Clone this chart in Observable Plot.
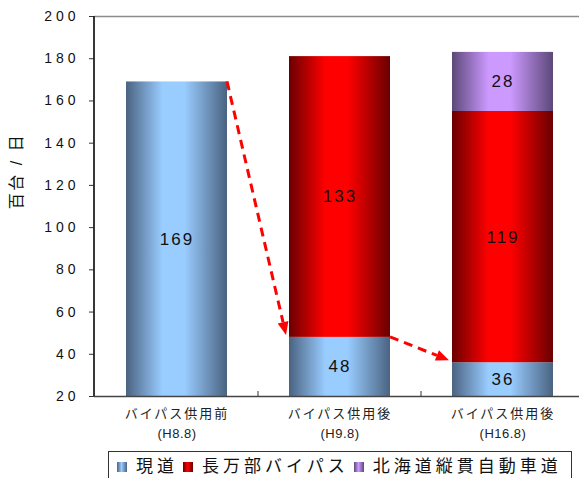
<!DOCTYPE html>
<html><head><meta charset="utf-8">
<script src="https://cdn.jsdelivr.net/npm/d3@7"></script>
<script src="https://cdn.jsdelivr.net/npm/@observablehq/plot@0.6"></script>
<style>
body{margin:0;background:#fff;font-family:"Liberation Sans","Noto Sans CJK JP",sans-serif;}
#wrap{position:relative;width:579px;height:478px;overflow:hidden;}
#legend{position:absolute;left:108px;top:451px;width:464px;height:40px;border:1px solid #333;box-sizing:border-box;
  display:flex;align-items:flex-start;padding-left:8px;font-size:17px;letter-spacing:4px;color:#111;line-height:30px;}
#legend .item{display:flex;align-items:center;margin-right:5px;}
#legend .sw{width:10px;height:10px;margin-right:9px;}
</style></head>
<body><div id="wrap"><div id="chart"></div><div id="legend"></div></div>
<script>
const categories = ["H8.8", "H9.8", "H16.8"];
const categoryNames = ["バイパス供用前", "バイパス供用後", "バイパス供用後"];
const seriesNames = ["現道", "長万部バイパス", "北海道縦貫自動車道"];
const genDo = [169, 48, 36];
const bypass = [0, 133, 119];
const jukan = [0, 0, 28];
const yTicks = [20, 40, 60, 80, 100, 120, 140, 160, 180, 200];
const yMin = 20, yMax = 200;

const seriesValues = [genDo, bypass, jukan];
const gradIds = ["gBlue", "gRed", "gPurple"];
const gradColors = [["#4a6381", "#99ccff"], ["#6a0000", "#ff0000"], ["#5c4878", "#cc99ff"]];

const rows = [];
const labels = [];
categories.forEach((c, i) => {
  let acc = 0;
  seriesValues.forEach((vals, s) => {
    const v = vals[i];
    if (!v) return;
    rows.push({cat: c, series: seriesNames[s], value: v, grad: `url(#${gradIds[s]})`});
    const y1 = acc, y2 = acc + v;
    labels.push({cat: c, value: v, mid: (Math.max(y1, yMin) + y2) / 2});
    acc = y2;
  });
});

const font = `"Liberation Sans","Noto Sans CJK JP",sans-serif`;
const chart = Plot.plot({
  width: 579, height: 448,
  marginLeft: 94, marginRight: 0, marginTop: 16, marginBottom: 52,
  style: {fontFamily: font, fontSize: "15px", background: "transparent", overflow: "visible", color: "#111"},
  x: {domain: categories, range: [94, 585], paddingInner: 0.38, paddingOuter: 0.19, axis: null},
  y: {domain: [yMin, yMax], clamp: true, axis: null},
  color: {type: "identity"},
  marks: [
    Plot.barY(rows, {x: "cat", y: "value", fill: "grad"}),
    Plot.text(labels, {x: "cat", y: "mid", text: d => String(d.value), fill: "#111", fontSize: 17}),
    Plot.ruleY([yMax], {stroke: "#8c8c8c", strokeWidth: 1.5}),
    Plot.ruleY([yMin], {stroke: "#444", strokeWidth: 1.5}),
    Plot.axisY({ticks: yTicks, tickSize: 5, tickPadding: 10, fontSize: 14, label: null, anchor: "left", stroke: "#333"}),
    Plot.text(categories, {x: d => d, frameAnchor: "bottom", dy: 21, text: (d, i) => categoryNames[i], fontSize: 13, fill: "#222"}),
    Plot.text(categories, {x: d => d, frameAnchor: "bottom", dy: 41, text: d => `(${d})`, fontSize: 13, fill: "#222"})
  ]
});
document.getElementById("chart").appendChild(chart);

const svg = d3.select(chart);
const textGroups = svg.selectAll('g[aria-label="text"]').nodes();
d3.select(textGroups[0]).style("letter-spacing", "2px");
d3.select(textGroups[1]).style("letter-spacing", "2px");
d3.select(textGroups[2]).style("letter-spacing", "0.5px");
svg.selectAll('g[aria-label="y-axis tick label"]').style("letter-spacing", "4px");

const defs = svg.insert("defs", ":first-child");
gradIds.forEach((id, k) => {
  const [dark, light] = gradColors[k];
  const g = defs.append("linearGradient").attr("id", id).attr("x1", 0).attr("x2", 1).attr("y1", 0).attr("y2", 0);
  [[0, dark], [0.36, light], [0.58, light], [1, dark]].forEach(([o, c]) => g.append("stop").attr("offset", o).attr("stop-color", c));
});

const xs = chart.scale("x"), ys = chart.scale("y");
const bw = xs.bandwidth, step = xs.step;
const yTop = ys.apply(yMax), yBot = ys.apply(yMin);
const xLeft = 94;

// left axis line
svg.append("line").attr("x1", xLeft).attr("x2", xLeft).attr("y1", yTop).attr("y2", yBot).attr("stroke", "#222").attr("stroke-width", 1.8);
// category boundary ticks
categories.slice(1).forEach(c => {
  const xb = xs.apply(c) - (step - bw) / 2;
  svg.append("line").attr("x1", xb).attr("x2", xb).attr("y1", yBot).attr("y2", yBot - 5).attr("stroke", "#333");
});

// y label
svg.append("text").attr("transform", `translate(18,171) rotate(-90)`)
  .attr("text-anchor", "middle").attr("dominant-baseline", "middle")
  .attr("font-size", 16).attr("fill", "#111").style("letter-spacing", "2.5px").text("百台 / 日");

// dashed arrows
const arrows = [[0, 1], [1, 2]];
arrows.forEach(([a, b]) => {
  const x1 = xs.apply(categories[a]) + bw, y1 = ys.apply(genDo[a]);
  const x2 = xs.apply(categories[b]) - 3, y2 = ys.apply(genDo[b]) - 2;
  const dx = x2 - x1, dy = y2 - y1, L = Math.hypot(dx, dy), ux = dx / L, uy = dy / L;
  const head = 13, hw = 5.5;
  const bx = x2 - ux * head, by = y2 - uy * head;
  svg.append("line").attr("x1", x1).attr("y1", y1).attr("x2", bx).attr("y2", by)
    .attr("stroke", "#ff0000").attr("stroke-width", 3).attr("stroke-dasharray", "9,6");
  svg.append("polygon").attr("points", [[x2, y2], [bx - uy * hw, by + ux * hw], [bx + uy * hw, by - ux * hw]].map(p => p.join(",")).join(" "))
    .attr("fill", "#ff0000");
});

// legend
const legend = d3.select("#legend");
seriesNames.forEach((n, k) => {
  const it = legend.append("div").attr("class", "item");
  it.append("div").attr("class", "sw").style("background", `linear-gradient(to right, ${gradColors[k][0]}, ${gradColors[k][1]} 45%, ${gradColors[k][0]})`);
  it.append("span").text(n);
});
</script></body></html>
